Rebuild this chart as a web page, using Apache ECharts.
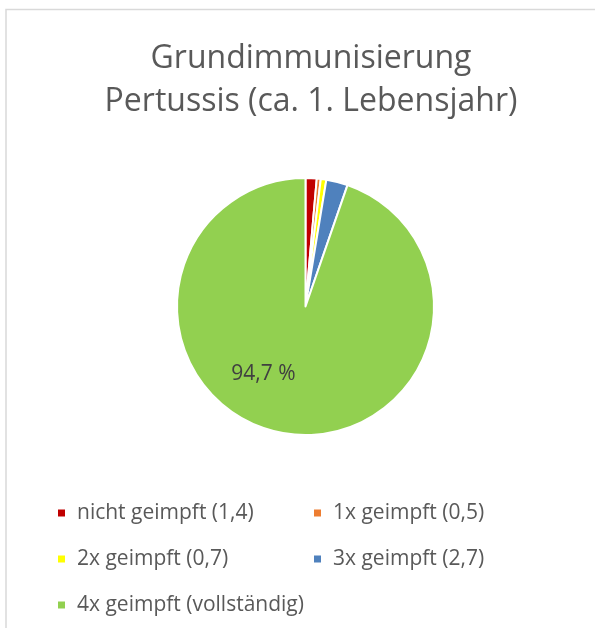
<!DOCTYPE html>
<html>
<head>
<meta charset="utf-8">
<script src="https://cdn.jsdelivr.net/npm/echarts@6/dist/echarts.min.js"></script>
<style>
  html, body { margin: 0; padding: 0; background: #fff; }
  #main { width: 595px; height: 628px; }
</style>
</head>
<body>
<div id="main"></div>
<script>
// Daten aus der Grafik (Anteile in %)
var kategorien = ['nicht geimpft (1,4)', '1x geimpft (0,5)', '2x geimpft (0,7)', '3x geimpft (2,7)', '4x geimpft (vollständig)'];
var werte = [1.4, 0.5, 0.7, 2.7, 94.7];
var farben = ['#C00000', '#ED7D31', '#FFFF00', '#4F81BD', '#92D050'];

var pieData = [];
for (var i = 0; i < kategorien.length; i++) {
  pieData.push({
    name: kategorien[i],
    value: werte[i],
    itemStyle: { color: farben[i] },
    label: { show: i == 4 }
  });
}

var legendText = { fontSize: 21, lineHeight: 24, color: '#595959', padding: [0, 0, 0, 6] };

var myChart = echarts.init(document.getElementById('main'));
myChart.setOption({
  textStyle: { fontFamily: 'Open Sans' },
  title: {
    text: 'Grundimmunisierung\nPertussis (ca. 1. Lebensjahr)',
    left: 306,
    textAlign: 'center',
    top: 32,
    textStyle: { fontSize: 32, fontWeight: 'normal', color: '#595959', lineHeight: 43, fontFamily: 'Open Sans' }
  },
  graphic: [{
    type: 'rect',
    shape: { x: 6, y: 9.5, width: 800, height: 800 },
    style: { fill: 'none', stroke: '#d9d9d9', lineWidth: 1.5 },
    silent: true
  }],
  legend: [{
    data: [kategorien[0], kategorien[2], kategorien[4]],
    orient: 'vertical',
    left: 51,
    top: 501,
    padding: [0, 0, 0, 5],
    itemGap: 22,
    itemWidth: 9,
    itemHeight: 9,
    icon: 'rect',
    textStyle: legendText
  }, {
    data: [kategorien[1], kategorien[3]],
    orient: 'vertical',
    left: 307,
    top: 501,
    padding: [0, 0, 0, 5],
    itemGap: 22,
    itemWidth: 9,
    itemHeight: 9,
    icon: 'rect',
    textStyle: legendText
  }],
  series: [{
    type: 'pie',
    center: [305.5, 306.5],
    radius: [0, 128.5],
    startAngle: 90,
    clockwise: true,
    animation: false,
    itemStyle: { borderColor: '#fff', borderWidth: 2 },
    label: {
      position: 'inside',
      fontSize: 21,
      color: '#404040',
      formatter: function (p) {
        return String(p.value).replace('.', ',') + ' %';
      }
    },
    labelLayout: function (params) {
      if (params.dataIndex == 4) {
        return { dx: -31, dy: 1 };
      }
    },
    emphasis: { disabled: true },
    data: pieData
  }]
});
</script>
</body>
</html>
